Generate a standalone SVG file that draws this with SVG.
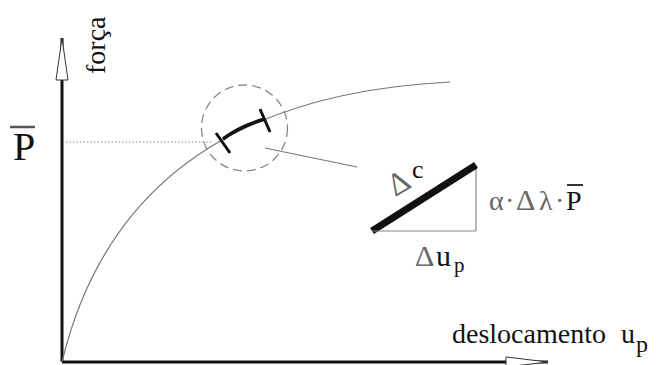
<svg xmlns="http://www.w3.org/2000/svg" width="656" height="365" viewBox="0 0 656 365">
<style>
text{font-family:"Liberation Serif","Times New Roman","DejaVu Serif",serif;fill:#111}
.g{fill:#666}
.axis{stroke:#111;stroke-width:3;fill:none}
.thin{stroke:#777;stroke-width:1.2;fill:none}
</style>
<rect width="656" height="365" fill="#fff"/>
<g id="axes">
<line class="axis" x1="62" y1="38" x2="62" y2="362"/>
<line class="axis" x1="62" y1="362" x2="548" y2="362"/>
<polygon points="62,38 56,80 68,80" fill="#fff" stroke="#333" stroke-width="1"/>
<polygon points="548,362 506,357 506,367" fill="#fff" stroke="#333" stroke-width="1"/>
</g>
<g id="labels">
<text font-size="28" transform="translate(105,74) rotate(-90)">força</text>
<text font-size="40" x="13" y="160">P</text>
<line x1="10" y1="127" x2="35" y2="127" stroke="#555" stroke-width="2.5"/>
<text font-size="28" x="452" y="343">deslocamento<tspan x="621">u</tspan><tspan x="636" y="352" font-size="24">p</tspan></text>
</g>
<g id="connectors">
<line x1="66" y1="142" x2="212" y2="142" stroke="#888" stroke-width="1" stroke-dasharray="1.5,2"/>
<path class="thin" d="M62,362 C95,225 190,95 450,82"/>
<line class="thin" x1="265" y1="148" x2="357" y2="167"/>
</g>
<g id="zoom">
<circle cx="244.5" cy="128" r="43" fill="none" stroke="#888" stroke-width="1.3" stroke-dasharray="9,5"/>
<path d="M223,139 Q240,126 265,119" fill="none" stroke="#111" stroke-width="3.5"/>
<line x1="216" y1="133" x2="230" y2="153" stroke="#111" stroke-width="3"/>
<line x1="260" y1="109" x2="270" y2="132" stroke="#111" stroke-width="3"/>
</g>
<g id="triangle">
<line x1="476" y1="165" x2="476" y2="231" stroke="#888" stroke-width="1.2"/>
<line x1="372" y1="231" x2="476" y2="165" stroke="#111" stroke-width="7"/>
<line x1="372" y1="231" x2="476" y2="231" stroke="#888" stroke-width="1.2"/>
<text class="g" font-size="32" transform="translate(395,197) rotate(-30)">Δ</text>
<text font-size="26" x="412" y="178">c</text>
<text font-size="28" y="210"><tspan class="g" x="489">α</tspan><tspan class="g" x="505">·</tspan><tspan class="g" x="516" font-size="30">Δ</tspan><tspan class="g" x="539">λ</tspan><tspan class="g" x="555">·</tspan><tspan x="566">P</tspan></text>
<line x1="567" y1="185" x2="583" y2="185" stroke="#333" stroke-width="2"/>
<text font-size="30" x="415" y="266"><tspan class="g">Δ</tspan><tspan x="436">u</tspan><tspan x="454" y="272" font-size="21">p</tspan></text>
</g>
</svg>
